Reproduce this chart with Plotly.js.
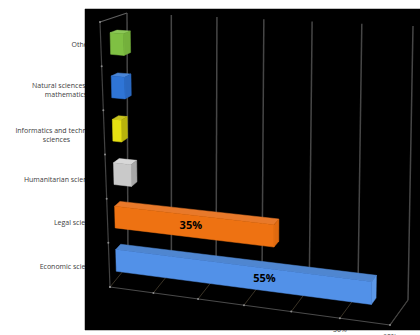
<!DOCTYPE html>
<html>
<head>
<meta charset="utf-8">
<script src="https://cdn.plot.ly/plotly-3.0.1.min.js"></script>
<style>html,body{margin:0;padding:0;background:#fff}#chart{width:420px;height:335px}</style>
</head>
<body>
<div id="chart"></div>
<script>
const categories = ["Economic sciences", "Legal sciences", "Humanitarian sciences",
  "Informatics and technical<br>sciences", "Natural sciences and<br>mathematics", "Other"];
const shares = [55, 35, 4, 2, 3, 3];
const printedShares = [55, 35, null, null, null, null];
const frontColors = ["#5291e8", "#ee7212", "#c9c9c9", "#e6e012", "#2f75d6", "#7fc043"];
const topColors = ["#4f86d0", "#e8792a", "#d8d8d8", "#c8c420", "#4a86d8", "#8cc858"];
const endColors = ["#5c98e8", "#e06a10", "#a8a8a8", "#b8b30c", "#2a68c0", "#74b03c"];
const tickValues = [0, 10, 20, 30, 40, 50, 60];
const tickTexts = ["0%", "10%", "20%", "30%", "40%", "50%", "60%"];
const labelCenters = [70, 77, 61, 56.5, 66, 81];
const labelRows = [267, 223, 180, 136, 91, 45];

// Oblique view of the chart box: a value/depth/height triple maps onto the
// pixel-sized layer by blending the box's eight projected corners. Values are
// foreshortened slightly because the left of the box sits further away.
const axisMax = 60, categoryCount = 6, foreshortening = 1.09;
const box = {
  a: [110, 287], b: [390, 325], c: [408, 300], d: [128, 265],
  e: [100, 22], f: [396, 50], g: [413, 26], h: [127, 13]
};
function mix(p, q, t) { return [p[0] + (q[0] - p[0]) * t, p[1] + (q[1] - p[1]) * t]; }
function project(value, depth, height) {
  const r = value / axisMax;
  const u = r / (r + (1 - r) * foreshortening);
  const low = mix(mix(box.a, box.b, u), mix(box.d, box.c, u), depth);
  const high = mix(mix(box.e, box.f, u), mix(box.h, box.g, u), depth);
  return mix(low, high, height);
}
function polyline(points, extra) {
  return Object.assign({
    type: "scatter", mode: "lines", hoverinfo: "skip", showlegend: false,
    x: points.map(p => p[0]), y: points.map(p => p[1])
  }, extra);
}
function line(points, color, width) {
  return polyline(points, { line: { color: color, width: width } });
}
function face(points, color) {
  const ring = points.concat([points[0]]);
  return polyline(ring, { fill: "toself", fillcolor: color, line: { color: color, width: 0.5 } });
}

const traces = [];
const labelFont = { family: "Open Sans", size: 7, color: "#404040" };

// Axis text goes first so the black panel trims it.
traces.push({
  type: "scatter", mode: "text", hoverinfo: "skip", showlegend: false,
  x: labelCenters, y: labelRows, text: categories,
  textposition: "middle center", textfont: labelFont
});
const tickFeet = tickValues.map(v => project(v, 0, 0));
traces.push({
  type: "scatter", mode: "text", hoverinfo: "skip", showlegend: false,
  x: tickFeet.map(p => p[0]), y: tickFeet.map(p => p[1] + 12), text: tickTexts,
  textposition: "middle center", textfont: labelFont
});

// Black chart panel.
traces.push(face([[85, 9], [420, 9], [420, 330], [85, 330]], "#000000"));

// Gridlines on the back wall and across the floor.
tickValues.forEach(v => {
  traces.push(line([project(v, 1, 1), project(v, 1, 0)], "#464646", 1.5));
  traces.push(line([project(v, 0, 0), project(v, 1, 0)], "#3a3326", 1));
});

// Box outline.
traces.push(line([box.e, box.a], "#424242", 1.2));
traces.push(line([box.e, box.h], "#606060", 1.2));
traces.push(line([box.a, box.b], "#4a4a4a", 1.2));
traces.push(line([box.b, box.c], "#444444", 1.2));

// Tick dots along the value axis and the category axis.
traces.push({
  type: "scatter", mode: "markers", hoverinfo: "skip", showlegend: false,
  x: tickFeet.map(p => p[0]), y: tickFeet.map(p => p[1]),
  marker: { color: "#8c8c8c", size: 2 }
});
const slotFeet = Array.from({ length: categoryCount + 1 }, (_, i) => project(0, 0, i / categoryCount));
traces.push({
  type: "scatter", mode: "markers", hoverinfo: "skip", showlegend: false,
  x: slotFeet.map(p => p[0]), y: slotFeet.map(p => p[1]),
  marker: { color: "#8c8c8c", size: 2 }
});

// Bars: top, end cap and front, the three faces turned towards the viewer.
const depthNear = 0.36, depthFar = 0.62, rise0 = 0.18, rise1 = 0.68;
for (let i = categoryCount - 1; i >= 0; i--) {
  const v = shares[i];
  const w0 = (i + rise0) / categoryCount, w1 = (i + rise1) / categoryCount;
  traces.push(face([project(0, depthNear, w1), project(v, depthNear, w1), project(v, depthFar, w1), project(0, depthFar, w1)], topColors[i]));
  traces.push(face([project(v, depthNear, w0), project(v, depthFar, w0), project(v, depthFar, w1), project(v, depthNear, w1)], endColors[i]));
  traces.push(face([project(0, depthNear, w0), project(v, depthNear, w0), project(v, depthNear, w1), project(0, depthNear, w1)], frontColors[i]));
}

// Printed values on the two long bars.
const printedAt = [0.6, 0.49];
printedShares.forEach((v, i) => {
  if (v === null) return;
  const p = project(shares[i] * printedAt[i], depthNear, (i + (rise0 + rise1) / 2) / categoryCount);
  traces.push({
    type: "scatter", mode: "text", hoverinfo: "skip", showlegend: false,
    x: [p[0]], y: [p[1]], text: [v + "%"], textposition: "middle center",
    textfont: { family: "Open Sans", size: 11, color: "#000000", weight: 700 }
  });
});

const layout = {
  width: 420, height: 335, margin: { l: 0, r: 0, t: 0, b: 0 },
  paper_bgcolor: "#ffffff", plot_bgcolor: "#ffffff", showlegend: false,
  xaxis: { domain: [0, 1], range: [0, 420], visible: false, fixedrange: true },
  yaxis: { domain: [0, 1], range: [335, 0], visible: false, fixedrange: true }
};

Plotly.newPlot("chart", traces, layout, { displayModeBar: false, staticPlot: true });
</script>
</body>
</html>
